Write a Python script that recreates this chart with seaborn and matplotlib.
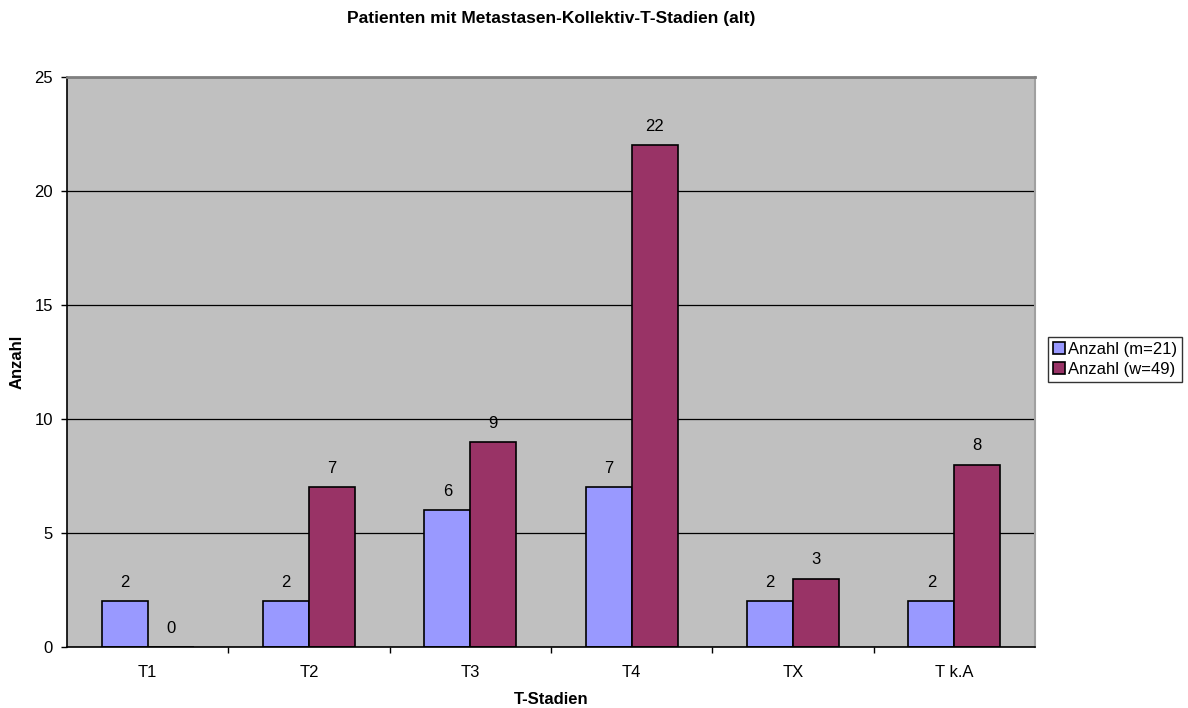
import matplotlib
matplotlib.use("Agg")
import matplotlib.pyplot as plt
from matplotlib.ticker import FixedLocator, NullFormatter
import seaborn as sns
import pandas as pd

stages = ["T1", "T2", "T3", "T4", "TX", "T k.A"]
men = [2, 2, 6, 7, 2, 2]
women = [0, 7, 9, 22, 3, 8]
series_names = ["Anzahl (m=21)", "Anzahl (w=49)"]
colors = ["#9999FF", "#993366"]

df = pd.DataFrame({
    "Stadium": stages * 2,
    "Anzahl": men + women,
    "Gruppe": [series_names[0]] * len(stages) + [series_names[1]] * len(stages),
})

sns.set_theme(style="white")
plt.rcParams["font.family"] = ["Liberation Sans", "DejaVu Sans"]
plt.rcParams["text.color"] = "black"
plt.rcParams["axes.labelcolor"] = "black"
plt.rcParams["xtick.color"] = "black"
plt.rcParams["ytick.color"] = "black"

W, H = 1188, 708
L, R, T, B = 67, 1035, 77, 647

fig = plt.figure(figsize=(W / 100, H / 100), dpi=100)
ax = fig.add_axes([L / W, 1 - B / H, (R - L) / W, (B - T) / H])
ax.set_facecolor("#C0C0C0")

sns.barplot(data=df, x="Stadium", y="Anzahl", hue="Gruppe", order=stages,
            hue_order=series_names, palette=colors, width=0.57,
            edgecolor="black", linewidth=1.2, saturation=1, ax=ax, legend=True)

for cont in ax.containers:
    ax.bar_label(cont, fmt="%d", padding=8, fontsize=12, color="black")

ax.set_ylim(0, 25)
ax.set_xlim(-0.5, len(stages) - 0.5)
ax.set_yticks([0, 5, 10, 15, 20, 25])
ax.yaxis.grid(True, color="black", linewidth=0.9)
ax.set_axisbelow(True)

# ticks between categories on the x-axis
ax.xaxis.set_minor_locator(FixedLocator([i + 0.5 for i in range(len(stages) - 1)]))
ax.xaxis.set_minor_formatter(NullFormatter())
ax.tick_params(axis="x", which="major", length=0, labelsize=12, pad=13)
ax.tick_params(axis="x", which="minor", length=4, width=1, color="black",
               direction="out", bottom=True)
ax.tick_params(axis="y", which="major", length=4, width=1, color="black",
               direction="out", left=True, labelsize=12, pad=6)

for side in ["left", "bottom"]:
    ax.spines[side].set_color("black")
    ax.spines[side].set_linewidth(1.2)
ax.spines["top"].set_color("#808080")
ax.spines["top"].set_linewidth(2)
ax.spines["right"].set_color("#A0A0A0")
ax.spines["right"].set_linewidth(1.5)

ax.set_xlabel("T-Stadien", fontsize=12, fontweight="bold")
ax.set_ylabel("Anzahl", fontsize=12, fontweight="bold")
ax.xaxis.set_label_coords(0.5, (B - 692) / (B - T))
ax.yaxis.set_label_coords((25 - L) / (R - L), 0.5)

fig.text((L + R) / 2 / W, 1 - 19 / H, "Patienten mit Metastasen-Kollektiv-T-Stadien (alt)",
         ha="center", va="center", fontsize=12.5, fontweight="bold")

handles, labels = ax.get_legend_handles_labels()
ax.legend(handles, labels, loc="upper left", bbox_to_anchor=(1048 / W, 1 - 337 / H),
          bbox_transform=fig.transFigure, frameon=True, fancybox=False, edgecolor="black",
          fontsize=12, handlelength=0.72, handleheight=0.72, handletextpad=0.15,
          borderpad=0.3, labelspacing=0.3, borderaxespad=0)
ax.get_legend().get_frame().set_linewidth(1.0)

fig.savefig("out.png", dpi=100, facecolor="white")
